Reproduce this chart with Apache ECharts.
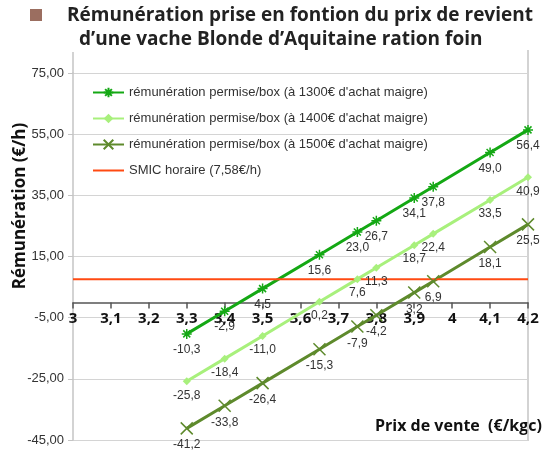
<!DOCTYPE html>
<html>
<head>
<meta charset="utf-8">
<script src="https://cdn.jsdelivr.net/npm/echarts@6/dist/echarts.min.js"></script>
<style>
  html, body { margin: 0; padding: 0; background: #fff; }
  #chart { width: 544px; height: 450px; }
</style>
</head>
<body>
<div id="chart"></div>
<script>
// prix de vente (€/kgc)
const prix = [3.3, 3.4, 3.5, 3.65, 3.75, 3.8, 3.9, 3.95, 4.1, 4.2]
const remu1300 = [-10.3, -2.9, 4.5, 15.6, 23.0, 26.7, 34.1, 37.8, 49.0, 56.4]
const remu1400 = [-25.8, -18.4, -11.0, 0.2, 7.6, 11.3, 18.7, 22.4, 33.5, 40.9]
const remu1500 = [-41.2, -33.8, -26.4, -15.3, -7.9, -4.2, 3.2, 6.9, 18.1, 25.5]
const smic = 7.58
const smicRange = [3, 4.2]

const seriesNames = [
  'rémunération permise/box (à 1300€ d\'achat maigre)',
  'rémunération permise/box (à 1400€ d\'achat maigre)',
  'rémunération permise/box (à 1500€ d\'achat maigre)',
  'SMIC horaire (7,58€/h)'
]

const yMin = -45
const yMax = 75
const gridTop = 73
const gridBottom = 10

const pairs = (vals) => prix.map((x, i) => [x, vals[i]])
const comma = (v, d) => v.toFixed(d).replace('.', ',')

const chart = echarts.init(document.getElementById('chart'))

// the x axis sits on y = 0, labels included
const gridHeight = 450 - gridTop - gridBottom
const xAxisOffset = -gridHeight * (0 - yMin) / (yMax - yMin)

const labelStyle = {
  show: true,
  position: 'bottom',
  distance: 4,
  color: '#333',
  fontSize: 12,
  fontFamily: 'Liberation Sans',
  formatter: (p) => comma(p.value[1], 1)
}

const option = {
  animation: false,
  grid: {
    left: 73,
    right: 16,
    top: gridTop,
    bottom: gridBottom,
    outerBoundsMode: 'none'
  },
  legend: {
    orient: 'vertical',
    left: 87,
    top: 81,
    itemWidth: 31,
    itemHeight: 12,
    itemGap: 13,
    textStyle: {
      color: '#333',
      fontSize: 13,
      fontFamily: 'Liberation Sans'
    },
    data: [
      seriesNames[0],
      seriesNames[1],
      seriesNames[2],
      { name: seriesNames[3], itemStyle: { opacity: 0 } }
    ]
  },
  xAxis: {
    type: 'value',
    min: 3,
    max: 4.2,
    interval: 0.1,
    offset: xAxisOffset,
    axisLine: { onZero: false, lineStyle: { color: '#555', width: 1.5 } },
    axisTick: { show: true, length: 6, lineStyle: { color: '#555', width: 1.5 } },
    axisLabel: {
      margin: 9,
      color: '#111',
      fontSize: 15,
      fontWeight: 'bold',
      fontFamily: 'Open Sans',
      formatter: (v) => String(Math.round(v * 10) / 10).replace('.', ',')
    },
    splitLine: { show: false }
  },
  yAxis: {
    type: 'value',
    min: yMin,
    max: yMax,
    interval: 20,
    axisLine: { show: true, onZero: false, lineStyle: { color: '#c4c4c4', width: 1.5 } },
    axisTick: { show: true, length: 5, lineStyle: { color: '#c4c4c4' } },
    axisLabel: {
      margin: 9,
      color: '#333',
      fontSize: 13,
      fontFamily: 'Liberation Sans',
      formatter: (v) => comma(v, 2)
    },
    splitLine: { show: true, lineStyle: { color: '#d4d4d4', width: 1 } }
  },
  graphic: [
    { type: 'rect', left: 30, top: 9, shape: { width: 12, height: 12 }, style: { fill: '#9b6e60' } },
    {
      type: 'text', left: 67, top: 6,
      style: { text: 'Rémunération prise en fontion du prix de revient', font: 'bold 19px "Open Sans"', fill: '#222' }
    },
    {
      type: 'text', left: 79, top: 30,
      style: { text: 'd\u2019une vache Blonde d\u2019Aquitaine ration foin', font: 'bold 19px "Open Sans"', fill: '#222' }
    },
    {
      type: 'text', x: 20, y: 206, rotation: Math.PI / 2,
      style: { text: 'Rémunération (€/h)', font: 'bold 17px "Open Sans"', fill: '#111', align: 'center', verticalAlign: 'middle' }
    },
    {
      type: 'text', left: 375, top: 418,
      style: { text: 'Prix de vente  (€/kgc)', font: 'bold 16px "Open Sans"', fill: '#111' }
    },
    { type: 'line', shape: { x1: 73, y1: 52, x2: 73, y2: 73 }, style: { stroke: '#c4c4c4', lineWidth: 1.5 } },
    { type: 'line', shape: { x1: 528, y1: 50, x2: 528, y2: 441 }, style: { stroke: '#c4c4c4', lineWidth: 1.5 } }
  ],
  series: [
    {
      name: seriesNames[0],
      type: 'line',
      data: pairs(remu1300),
      symbol: 'path://M0,5L10,5M5,0L5,10M1.5,1.5L8.5,8.5M8.5,1.5L1.5,8.5',
      symbolSize: 10,
      lineStyle: { color: '#14a814', width: 3 },
      itemStyle: { color: '#14a814', borderColor: '#14a814', borderWidth: 1.5 },
      label: labelStyle
    },
    {
      name: seriesNames[1],
      type: 'line',
      data: pairs(remu1400),
      symbol: 'diamond',
      symbolSize: 8,
      lineStyle: { color: '#a8f07c', width: 3 },
      itemStyle: { color: '#a8f07c' },
      label: labelStyle
    },
    {
      name: seriesNames[2],
      type: 'line',
      data: pairs(remu1500),
      symbol: 'path://M0,0L10,10M10,0L0,10',
      symbolSize: 12,
      lineStyle: { color: '#5e8a2c', width: 3 },
      itemStyle: { color: '#5e8a2c', borderColor: '#5e8a2c', borderWidth: 1.5 },
      label: labelStyle
    },
    {
      name: seriesNames[3],
      type: 'line',
      data: smicRange.map((x) => [x, smic]),
      symbol: 'none',
      lineStyle: { color: '#ff4a12', width: 2 },
      itemStyle: { color: '#ff4a12' }
    }
  ]
}

chart.setOption(option)
</script>
</body>
</html>
